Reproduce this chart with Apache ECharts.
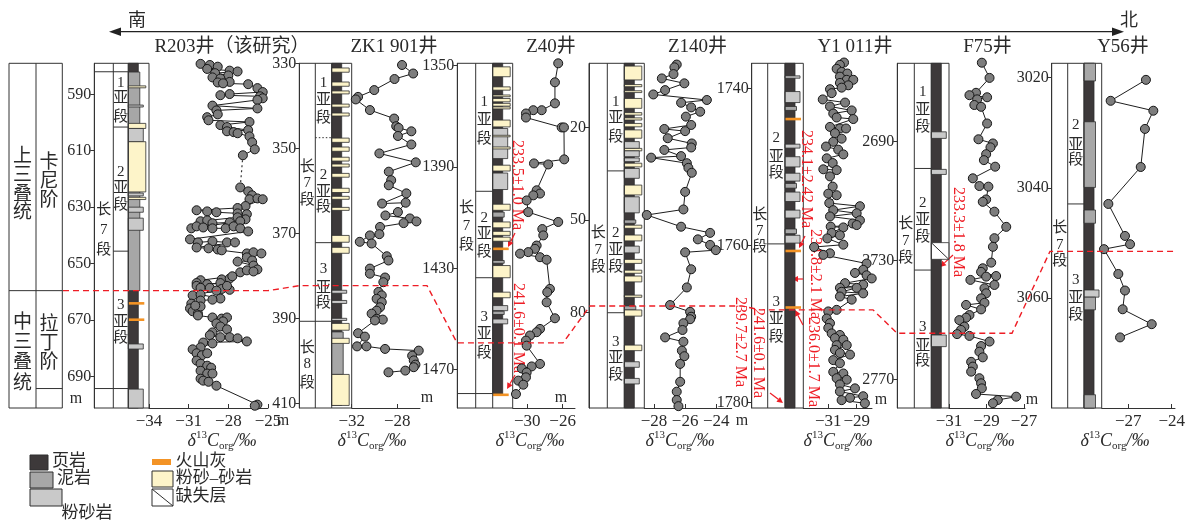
<!DOCTYPE html>
<html>
<head>
<meta charset="utf-8">
<script src="https://cdn.jsdelivr.net/npm/echarts@6/dist/echarts.min.js"></script>
<style>
html,body{margin:0;padding:0;background:#fff;}
#chart{width:1188px;height:524px;}
</style>
</head>
<body>
<div id="chart"></div>
<script>
// Lithology codes
const SH = 0, MD = 1, SI = 2, SS = 3, ASH = 4, GAP = 5;

// ---------- R203 ----------
const r203DepthTicks = [590, 610, 630, 650, 670, 690];
const r203CarbonTicks = [-34, -31, -28, -25];
const r203UpperDepth = [579.2,579.6,580.2,581.0,581.6,581.9,582.5,583.3,584.0,584.4,585.6,585.8,586.1,586.4,587.8,589.2,589.9,590.3,590.7,591.4,592.0,594.0,595.0,595.7,597.1,598.1,599.2,599.8,600.9,601.6,602.7,603.1,603.4,603.8,604.9,607.0,609.5,611.6];
const r203UpperCarbon = [-30.1,-29.4,-28.8,-29.6,-27.9,-27.3,-29.0,-28.0,-29.2,-28.6,-27.9,-28.8,-28.4,-26.5,-25.8,-25.4,-27.9,-28.6,-25.6,-25.4,-25.8,-29.2,-25.8,-28.9,-28.8,-29.6,-29.5,-26.4,-28.6,-28.1,-26.5,-28.1,-27.6,-27.3,-26.4,-26.2,-26.0,-26.9];
const r203LowerDepth = [623.0,624.4,625.8,627.2,626.9,627.2,629.6,630.3,631.1,631.5,631.8,632.2,632.5,634.3,633.6,635.0,634.7,635.7,635.4,635.0,637.5,636.8,637.2,637.5,637.5,636.8,637.5,638.6,641.4,642.5,642.1,642.5,642.5,644.3,644.6,645.0,645.3,646.4,646.0,646.4,647.8,648.9,649.3,650.7,652.1,653.1,652.4,652.8,655.6,655.3,654.5,655.9,656.9,657.3,656.9,657.9,658.6,658.6,659.0,659.3,657.9,659.6,661.3,661.0,662.4,662.8,663.1,664.2,665.9,666.9,667.7,665.2,664.9,668.4,669.1,669.5,669.1,670.5,671.2,672.3,673.3,674.4,675.4,676.1,676.1,676.5,677.6,678.0,678.3,679.7,680.4,681.8,682.5,681.8,684.4,685.5,686.2,686.9,688.0,689.0,689.0,690.8,691.5,691.9,693.3,700.0,700.4];
const r203LowerCarbon = [-27.1,-26.5,-26.2,-26.4,-25.8,-25.4,-26.7,-27.3,-30.4,-29.6,-28.9,-27.3,-26.6,-26.7,-27.3,-30.1,-29.6,-29.2,-27.9,-27.1,-30.8,-30.4,-29.9,-29.2,-28.2,-27.6,-27.1,-26.5,-30.9,-30.3,-29.2,-28.1,-27.5,-30.4,-29.5,-28.8,-28.5,-26.6,-26.1,-25.5,-26.6,-26.2,-27.3,-26.1,-25.8,-27.1,-26.6,-26.1,-28.5,-27.9,-27.7,-30.1,-30.4,-29.6,-28.6,-30.4,-30.1,-29.4,-28.5,-27.9,-28.1,-28.9,-30.7,-30.1,-28.6,-29.2,-30.1,-30.8,-30.9,-30.7,-30.3,-30.1,-30.5,-30.3,-29.2,-28.5,-28.1,-28.4,-28.9,-28.6,-28.1,-29.2,-29.4,-28.6,-27.9,-27.3,-26.6,-29.9,-29.2,-30.1,-30.7,-30.4,-30.0,-29.6,-30.4,-30.1,-29.6,-29.3,-30.1,-29.6,-29.2,-30.1,-29.9,-29.5,-28.9,-25.8,-26.0];
const r203Litho = [[579.0,701.2,SH],[582.1,659.6,MD],[587.0,587.7,SS],[593.8,594.5,SI],[600.3,602.1,SS],[602.1,606.8,SI],[606.8,624.6,SS],[625.0,626.0,SI],[626.5,627.3,SS],[630.0,631.8,SI],[633.9,638.2,SI],[664.1,664.1,ASH],[669.9,669.9,ASH],[678.5,680.3,SI],[694.5,701.2,SI]];
const r203Units = [[582.0,0],[601.6,1],[645.6,1],[694.3,0]];
const stageBounds = [[659.6,0],[694.3,1]];

// ---------- ZK1 901 ----------
const zk1DepthTicks = [330, 350, 370, 390, 410];
const zk1CarbonTicks = [-32, -28];
const zk1Depth = [330.4,332.4,333.7,336.3,337.9,338.5,341.0,343.0,344.8,345.2,346.0,347.1,349.1,351.2,353.3,355.5,357.5,358.7,360.6,363.0,362.8,365.0,365.8,366.5,367.2,367.6,368.5,370.2,370.5,372.0,372.4,375.4,376.4,378.3,379.5,380.4,381.5,383.8,384.6,385.4,386.2,387.4,388.2,388.9,390.1,390.3,390.5,393.5,394.3,396.6,396.6,397.2,397.6,398.8,399.9,400.9,401.5,402.3,402.7];
const zk1Carbon = [-27.58,-26.60,-28.24,-30.02,-31.44,-31.64,-30.40,-28.27,-28.09,-27.88,-26.76,-27.94,-26.76,-29.57,-26.37,-28.74,-28.53,-28.74,-27.20,-29.33,-27.26,-27.94,-29.04,-26.89,-26.31,-27.44,-29.51,-29.57,-30.40,-31.29,-30.25,-28.92,-28.77,-30.40,-30.40,-29.07,-29.22,-29.65,-29.36,-29.81,-29.36,-29.51,-29.81,-30.25,-29.81,-29.27,-29.96,-31.44,-30.84,-31.53,-30.70,-29.07,-26.11,-26.69,-26.55,-26.40,-26.55,-27.29,-28.77];
const zk1Litho = [[330.0,410.5,SH],[331.1,332.1,SS],[334.4,335.4,SS],[336.5,337.2,SS],[339.6,340.3,SS],[341.7,342.4,SS],[347.6,348.6,SS],[349.7,350.7,SS],[352.1,353.0,SS],[353.7,354.4,SS],[355.9,356.8,SS],[359.4,360.4,SS],[361.3,362.0,SS],[363.9,364.6,SS],[370.5,372.1,SS],[373.3,374.7,SS],[383.4,384.1,SI],[385.8,386.5,SI],[390.0,390.5,SI],[391.2,392.8,SS],[393.2,403.2,MD],[394.7,395.9,SS],[403.2,410.5,SS]];
const zk1Units = [[347.5,2],[372.2,1],[390.7,0]];

// ---------- Z40 ----------
const z40DepthTicks = [1350, 1390, 1430, 1470];
const z40CarbonTicks = [-30, -26];
const z40Depth = [1349.1,1356.6,1364.9,1367.6,1367.6,1368.9,1370.5,1374.4,1374.4,1387.0,1388.6,1389.0,1399.2,1400.5,1401.2,1403.2,1407.8,1411.7,1414.5,1417.0,1421.0,1422.3,1423.6,1424.2,1425.6,1426.6,1438.1,1439.4,1443.4,1449.7,1453.9,1455.2,1456.5,1458.5,1460.5,1467.7,1468.7,1469.5,1471.1,1473.0,1474.3,1475.9,1479.6];
const z40Carbon = [-26.50,-26.87,-26.87,-28.37,-29.32,-30.15,-30.15,-26.11,-25.85,-25.82,-29.24,-27.63,-28.94,-28.56,-29.32,-30.07,-29.89,-26.50,-28.30,-28.19,-28.94,-29.13,-29.89,-30.82,-28.56,-27.81,-27.44,-27.74,-27.81,-26.87,-28.56,-28.94,-29.69,-30.15,-30.07,-28.56,-29.50,-30.63,-30.07,-30.15,-31.02,-30.45,-31.28];
const z40Litho = [[1349.1,1479.6,SH],[1350.5,1354.4,SS],[1358.4,1359.7,SS],[1361.6,1362.3,SS],[1363.0,1364.3,SS],[1364.9,1366.0,SS],[1366.3,1367.1,SS],[1371.5,1374.2,SS],[1374.8,1386.7,SI],[1377.5,1378.1,SS],[1382.1,1382.9,SS],[1389.3,1391.6,SS],[1392.4,1398.9,SI],[1404.7,1407.1,SS],[1407.8,1409.8,MD],[1411.7,1414.0,SS],[1415.4,1417.0,SS],[1417.7,1419.3,SS],[1422.3,1422.3,ASH],[1426.9,1428.0,MD],[1428.9,1433.7,SS],[1439.4,1441.6,SS],[1444.7,1446.7,SI],[1446.9,1448.2,MD],[1450.0,1451.9,SI],[1479.9,1479.9,ASH]];
const z40Units = [[1399.6,1],[1433.7,1],[1479.4,0]];

// ---------- Z140 ----------
const z140DepthTicks = [20, 50, 80];
const z140CarbonTicks = [-28, -26, -24];
const z140Depth = [-0.5,0.4,2.6,4.0,5.6,7.8,9.2,11.0,11.9,13.4,14.8,16.4,19.1,20.4,21.1,23.4,25.1,26.4,27.2,29.2,29.7,31.5,33.0,34.6,40.8,46.5,48.3,52.1,54.1,56.2,58.0,59.7,60.4,65.9,71.8,77.5,79.7,81.3,82.1,83.4,85.6,88.0,89.4,92.3,94.1,96.6,102.4,105.6,108.3,110.3];
const z140Carbon = [-26.54,-26.69,-26.75,-27.50,-26.05,-27.29,-28.05,-24.60,-26.26,-25.61,-25.03,-25.95,-25.61,-27.34,-26.00,-27.12,-25.57,-25.61,-27.34,-26.26,-28.19,-25.89,-25.79,-25.57,-26.00,-26.11,-28.47,-26.26,-24.39,-25.18,-24.39,-24.02,-26.00,-25.61,-25.89,-26.97,-25.68,-25.61,-25.68,-26.11,-26.17,-27.29,-26.11,-26.21,-26.05,-26.32,-26.32,-26.54,-26.54,-26.43];
const z140Litho = [[-0.9,110.9,SH],[0.0,4.5,SS],[6.0,6.7,SS],[8.0,8.6,SS],[10.5,13.7,SS],[15.1,15.9,SS],[16.8,17.5,SS],[18.6,19.7,SS],[20.7,23.4,SS],[24.5,26.7,SI],[26.7,27.5,SS],[27.5,29.4,SI],[29.8,31.0,SI],[31.5,32.7,SS],[33.2,36.4,SI],[38.6,41.8,SS],[42.4,47.6,SI],[49.9,51.0,MD],[51.6,52.6,SS],[54.8,56.7,SS],[58.4,60.6,SI],[62.7,64.0,SS],[66.2,67.2,SS],[68.1,70.0,SS],[74.3,75.0,SS],[77.8,79.1,MD],[79.1,81.1,SS],[90.5,92.3,SS],[95.9,97.7,SI],[101.3,103.1,SI]];
const z140Units = [[34.0,1],[80.0,1]];

// ---------- Y1 011 ----------
const y1011DepthTicks = [1740, 1760, 1780];
const y1011CarbonTicks = [-31, -29];
const y1011Depth = [1736.7,1737.0,1737.5,1737.9,1738.1,1738.5,1738.9,1738.9,1739.3,1739.6,1739.9,1740.1,1740.6,1741.4,1741.8,1742.3,1742.8,1743.2,1743.7,1743.9,1744.9,1745.1,1745.1,1745.7,1746.4,1746.8,1747.4,1747.8,1748.4,1748.9,1749.5,1750.3,1750.4,1751.2,1752.5,1753.4,1753.6,1754.6,1755.0,1755.5,1755.9,1756.3,1756.8,1757.2,1757.4,1757.6,1757.7,1758.4,1758.7,1759.1,1759.9,1760.2,1761.0,1761.2,1762.3,1763.1,1763.5,1763.8,1764.2,1764.8,1765.0,1765.4,1765.4,1765.9,1766.1,1766.5,1766.9,1768.2,1768.4,1769.3,1769.9,1770.5,1771.2,1771.4,1771.8,1772.0,1772.7,1772.7,1773.3,1773.7,1773.9,1774.6,1775.0,1776.1,1776.3,1776.9,1777.1,1777.7,1778.2,1778.6,1779.2,1779.4,1779.7,1780.1];
const y1011Carbon = [-29.89,-30.18,-30.41,-30.06,-29.66,-30.18,-29.70,-29.24,-30.18,-29.59,-30.06,-30.88,-30.76,-31.39,-29.82,-30.88,-29.35,-30.65,-30.41,-29.24,-30.88,-30.18,-29.75,-30.53,-30.06,-30.65,-31.16,-30.30,-29.94,-31.11,-30.69,-31.35,-30.41,-30.88,-30.69,-31.00,-30.41,-30.93,-28.77,-30.65,-29.00,-30.88,-28.77,-29.28,-29.00,-30.83,-29.94,-30.76,-30.18,-31.07,-29.94,-32.00,-30.88,-31.35,-28.30,-28.54,-29.12,-28.30,-27.94,-29.82,-28.54,-30.18,-29.00,-30.06,-28.54,-30.18,-29.35,-30.41,-31.00,-31.11,-30.88,-31.00,-30.76,-30.18,-30.53,-29.94,-30.41,-29.70,-30.53,-30.18,-29.47,-30.65,-30.18,-30.65,-29.94,-30.41,-29.70,-30.18,-29.12,-30.18,-28.54,-29.47,-30.06,-28.42];
const y1011Litho = [[1736.8,1780.7,SH],[1738.4,1738.7,SI],[1740.4,1741.8,SI],[1742.3,1742.8,MD],[1743.9,1743.9,ASH],[1747.1,1747.6,SI],[1748.7,1750.0,SI],[1750.8,1751.8,SI],[1752.1,1752.7,MD],[1753.2,1754.4,SI],[1755.5,1756.5,SI],[1757.9,1758.5,MD],[1758.7,1759.7,SI],[1760.7,1760.7,ASH],[1767.9,1767.9,ASH]];
const y1011Units = [[1759.8,1]];

// ---------- F75 ----------
const f75DepthTicks = [2690, 2730, 2770];
const f75CarbonTicks = [-31, -29, -27];
const f75Depth = [2663.6,2668.7,2673.7,2674.5,2675.2,2675.9,2677.8,2678.4,2684.0,2689.3,2690.7,2692.0,2694.3,2696.3,2698.5,2702.4,2705.0,2705.2,2709.5,2710.3,2713.6,2718.7,2722.5,2725.4,2730.7,2732.6,2733.8,2735.2,2735.4,2736.5,2738.2,2739.3,2741.0,2742.7,2744.2,2744.9,2746.4,2748.3,2749.2,2750.0,2752.2,2753.3,2754.7,2755.3,2757.2,2758.7,2760.6,2762.5,2764.0,2765.6,2767.3,2769.5,2771.2,2772.9,2774.8,2775.7,2776.8,2777.9];
const f75Carbon = [-29.25,-28.84,-29.56,-29.91,-28.97,-29.50,-29.65,-29.29,-28.97,-29.43,-28.66,-28.79,-29.02,-29.14,-28.54,-29.73,-29.38,-28.90,-29.02,-29.20,-28.58,-27.95,-28.58,-28.66,-28.75,-29.20,-29.29,-28.49,-29.02,-29.86,-28.58,-29.11,-29.02,-29.29,-29.11,-30.09,-29.29,-29.91,-30.09,-30.45,-30.18,-30.36,-30.57,-29.91,-28.84,-29.29,-29.38,-29.20,-29.82,-29.73,-29.82,-29.38,-29.29,-29.25,-29.56,-27.42,-28.40,-28.66];
const f75Litho = [[2663.8,2779.5,SH],[2686.8,2689.0,SI],[2699.4,2701.1,SI],[2724.0,2729.6,GAP],[2755.0,2758.9,SI]];
const f75Units = [[2699.1,1],[2733.2,1]];

// ---------- Y56 ----------
const y56DepthTicks = [3020, 3040, 3060];
const y56CarbonTicks = [-27, -24];
const y56Depth = [3020.4,3024.2,3026.0,3029.3,3036.2,3042.9,3048.7,3050.2,3051.1,3055.6,3058.6,3062.0,3064.7,3067.1];
const y56Carbon = [-25.78,-28.22,-25.27,-25.85,-26.14,-28.38,-27.23,-26.88,-28.68,-27.69,-27.23,-27.39,-25.38,-27.57];
const y56Litho = [[3017.4,3079.9,SH],[3017.4,3020.6,MD],[3028.0,3039.9,MD],[3044.0,3046.4,MD],[3058.5,3059.8,SI],[3059.8,3062.1,MD],[3077.5,3079.9,MD]];
const y56Units = [[3042.9,1]];

// Ladinian/Carnian boundary traced through each well (depth in that well)
const boundaryDepths = [659.6, 382.3, 1459.4, 77.8, 1768.2, 2754.4, 3051.5];

// ---------- styling / layout ----------
const SERIF = "'Liberation Serif','Noto Sans CJK SC',serif";
const INK = '#2a2a2a';
const RED = '#ee1d25';
const LITHO_STYLE = {
  [SH]: {w: 10, fill: '#3d393a'},
  [MD]: {w: 11.5, fill: '#a7a7a7'},
  [SI]: {w: 15, fill: '#c9c9c9'},
  [SS]: {w: 17.5, fill: '#fdf4c9'},
  [ASH]: {w: 16, fill: '#f39325'},
  [GAP]: {w: 17.5, fill: '#ffffff'}
};
const TOP = 63.3, HEIGHT = 344.7;

const PANELS = [
  {title: 'R203井（该研究）', tx: 232, left: 94.3, boxW: 54.7, col1: 19, col2: 15, curveR: 268, xr: [-34, -25], yr: [579.0, 701.2],
   dTicks: r203DepthTicks, cTicks: r203CarbonTicks, litho: r203Litho, units: r203Units, labelX: 222, unit: [76, 399],
   c1: [['长',210],['7',230],['段',250]],
   c2: [['1',82.7],['亚',98.3],['段',116.7],['2',171.7],['亚',188.3],['段',205],['3',305],['亚',321.7],['段',338.3]]},
  {title: 'ZK1 901井', tx: 394, left: 299.3, boxW: 52.4, col1: 16, col2: 16.4, curveR: 420, xr: [-32, -26], yr: [330.0, 411.1],
   dTicks: zk1DepthTicks, cTicks: zk1CarbonTicks, litho: zk1Litho, units: zk1Units, labelX: 372, unit: [283, 421],
   c1: [['长',167],['7',183],['段',200],['长',348],['8',364],['段',383]],
   c2: [['1',83],['亚',100],['段',118],['2',175],['亚',192],['段',207],['3',269],['亚',288],['段',303]]},
  {title: 'Z40井', tx: 551, left: 457.3, boxW: 55.4, col1: 18.4, col2: 17, curveR: 575, xr: [-31.65, -24.6], yr: [1349.1, 1485.1],
   dTicks: z40DepthTicks, cTicks: z40CarbonTicks, litho: z40Litho, units: z40Units, labelX: 530, unit: [427, 398],
   c1: [['长',208],['7',226],['段',245]],
   c2: [['1',102],['亚',120],['段',139],['2',218],['亚',234],['段',252],['3',317],['亚',334],['段',353]]},
  {title: 'Z140井', tx: 697.5, left: 589, boxW: 55.3, col1: 18.3, col2: 17, curveR: 731.7, xr: [-28.63, -23.0], yr: [-0.9, 110.9],
   dTicks: z140DepthTicks, cTicks: z140CarbonTicks, litho: z140Litho, units: z140Units, labelX: 680, unit: [561, 398],
   c1: [['长',233],['7',250],['段',267]],
   c2: [['1',102],['亚',118],['段',137],['2',233],['亚',250],['段',267],['3',342],['亚',358],['段',375]]},
  {title: 'Y1 011井', tx: 855, left: 751.7, boxW: 51.6, col1: 16, col2: 17.3, curveR: 872, xr: [-32.76, -27.92], yr: [1736.8, 1780.7],
   dTicks: y1011DepthTicks, cTicks: y1011CarbonTicks, litho: y1011Litho, units: y1011Units, labelX: 838, unit: [742, 421],
   c1: [['长',215],['7',231],['段',247]],
   c2: [['2',138],['亚',157],['段',173],['3',302],['亚',319],['段',337]]},
  {title: 'F75井', tx: 987.5, left: 897.3, boxW: 51.7, col1: 17, col2: 17, curveR: 1025, xr: [-31, -26.95], yr: [2663.8, 2779.5],
   dTicks: f75DepthTicks, cTicks: f75CarbonTicks, litho: f75Litho, units: f75Units, labelX: 980, unit: [881, 400],
   c1: [['长',224],['7',241],['段',258]],
   c2: [['1',92],['亚',110],['段',127],['2',203],['亚',220],['段',237],['3',327],['亚',346],['段',361]]},
  {title: 'Y56井', tx: 1123, left: 1051.7, boxW: 50, col1: 16, col2: 16.3, curveR: 1175, xr: [-28.84, -23.77], yr: [3017.4, 3079.9],
   dTicks: y56DepthTicks, cTicks: y56CarbonTicks, litho: y56Litho, units: y56Units, labelX: 1115, unit: [1032, 400],
   c1: [['长',228],['7',245],['段',261]],
   c2: [['2',125],['亚',145],['段',160],['3',280],['亚',298],['段',315]]}
];

const CURVES = [
  [[r203UpperDepth, r203UpperCarbon], [r203LowerDepth, r203LowerCarbon]],
  [[zk1Depth, zk1Carbon]],
  [[z40Depth, z40Carbon]],
  [[z140Depth, z140Carbon]],
  [[y1011Depth, y1011Carbon]],
  [[f75Depth, f75Carbon]],
  [[y56Depth, y56Carbon]]
];

const minus = v => String(v).replace('-', '\u2212');
const plain = v => String(v);

const grids = [], xAxes = [], yAxes = [], series = [];

PANELS.forEach((p, i) => {
  const curveL = p.left + p.boxW;
  // stratigraphic column box
  grids.push({left: p.left, top: TOP, width: p.boxW, height: HEIGHT, show: true, borderColor: '#333', borderWidth: 1, backgroundColor: 'transparent'});
  // carbon isotope curve area
  grids.push({left: curveL, top: TOP, width: p.curveR - curveL, height: HEIGHT});

  xAxes.push({gridIndex: 2 * i, type: 'value', min: 0, max: p.boxW, show: false});
  xAxes.push({
    gridIndex: 2 * i + 1, type: 'value', min: p.xr[0], max: p.xr[1], position: 'bottom',
    axisLine: {show: true, onZero: false, lineStyle: {color: '#333', width: 1}},
    axisTick: {show: true, inside: true, length: 4, customValues: p.cTicks, lineStyle: {color: '#333'}},
    axisLabel: {customValues: p.cTicks, formatter: minus, fontFamily: SERIF, fontSize: 17, color: INK, margin: 5},
    splitLine: {show: false}
  });
  yAxes.push({
    gridIndex: 2 * i, type: 'value', inverse: true, min: p.yr[0], max: p.yr[1], position: 'left',
    axisLine: {show: true, onZero: false, lineStyle: {color: '#333', width: 1}},
    axisTick: {show: true, inside: false, length: 4, customValues: p.dTicks, lineStyle: {color: '#333'}},
    axisLabel: {customValues: p.dTicks, formatter: plain, fontFamily: SERIF, fontSize: 16, color: INK, margin: 3},
    splitLine: {show: false}
  });
  yAxes.push({gridIndex: 2 * i + 1, type: 'value', inverse: true, min: p.yr[0], max: p.yr[1], show: false});

  const off = p.col1 + p.col2;
  // lithology column
  series.push({
    type: 'custom', xAxisIndex: 2 * i, yAxisIndex: 2 * i, silent: true, z: 2,
    data: p.litho.map(r => [0, r[0], r[1], r[2]]),
    encode: {x: 0, y: [1, 2]},
    renderItem(params, api) {
      const kind = api.value(3);
      const st = LITHO_STYLE[kind];
      const a = api.coord([off, api.value(1)]);
      const b = api.coord([off, api.value(2)]);
      if (kind === ASH) {
        return {type: 'line', shape: {x1: a[0], y1: a[1], x2: a[0] + st.w, y2: a[1]}, style: {stroke: st.fill, lineWidth: 2.6}};
      }
      const h = Math.max(b[1] - a[1], 1);
      const rect = {type: 'rect', shape: {x: a[0], y: a[1], width: st.w, height: h}, style: {fill: st.fill, stroke: '#2e2e2e', lineWidth: 0.8}};
      if (kind === GAP) {
        return {type: 'group', children: [rect, {type: 'line', shape: {x1: a[0], y1: a[1], x2: a[0] + st.w, y2: a[1] + h}, style: {stroke: '#2e2e2e', lineWidth: 1}}]};
      }
      return rect;
    }
  });
  // member / sub-member boundaries
  series.push({
    type: 'custom', xAxisIndex: 2 * i, yAxisIndex: 2 * i, silent: true, z: 3,
    data: p.units.map(u => [0, u[0], u[1]]),
    encode: {x: 0, y: 1},
    renderItem(params, api) {
      const scope = api.value(2);
      const q = api.coord([0, api.value(1)]);
      const x0 = scope === 0 ? q[0] : q[0] + p.col1;
      return {type: 'line', shape: {x1: x0, y1: q[1], x2: q[0] + off, y2: q[1]},
        style: {stroke: '#333', lineWidth: 1, lineDash: scope === 2 ? [1.5, 2] : null}};
    }
  });
  // column dividers
  series.push({
    type: 'custom', xAxisIndex: 2 * i, yAxisIndex: 2 * i, silent: true, z: 3,
    data: [[0, p.yr[0]]],
    renderItem(params) {
      const cs = params.coordSys;
      return {type: 'group', children: [p.col1, off].map(dx => ({
        type: 'line', shape: {x1: cs.x + dx, y1: cs.y, x2: cs.x + dx, y2: cs.y + cs.height}, style: {stroke: '#333', lineWidth: 1}}))};
    }
  });
  // δ13C curves
  CURVES[i].forEach(([dep, val]) => {
    series.push({
      type: 'line', xAxisIndex: 2 * i + 1, yAxisIndex: 2 * i + 1, clip: false, z: 4,
      data: dep.map((d, k) => [val[k], d]),
      symbol: 'circle', symbolSize: 9,
      itemStyle: {color: '#7d7d7d', borderColor: '#161616', borderWidth: 1},
      lineStyle: {color: '#1e1e1e', width: 1}
    });
  });
});

// dotted link across the unsampled interval in R203
series.push({
  type: 'line', xAxisIndex: 1, yAxisIndex: 1, symbol: 'none', z: 3,
  data: [[r203UpperCarbon[r203UpperCarbon.length - 1], r203UpperDepth[r203UpperDepth.length - 1]], [r203LowerCarbon[0], r203LowerDepth[0]]],
  lineStyle: {color: '#333', width: 1.2, type: [2, 3]}
});

// chronostratigraphic table to the left of R203 (shares R203 depth scale)
const TBL = grids.length;
grids.push({left: 9, top: TOP, width: 53.3, height: HEIGHT, show: true, borderColor: '#333', borderWidth: 1});
xAxes.push({gridIndex: TBL, type: 'value', min: 0, max: 53.3, show: false});
yAxes.push({gridIndex: TBL, type: 'value', inverse: true, min: PANELS[0].yr[0], max: PANELS[0].yr[1], show: false});
series.push({
  type: 'custom', xAxisIndex: TBL, yAxisIndex: TBL, silent: true,
  data: stageBounds.map(s => [0, s[0], s[1]]),
  encode: {x: 0, y: 1},
  renderItem(params, api) {
    const q = api.coord([0, api.value(1)]);
    const x0 = api.value(2) === 0 ? q[0] : q[0] + 27;
    return {type: 'line', shape: {x1: x0, y1: q[1], x2: q[0] + 53.3, y2: q[1]}, style: {stroke: '#333', lineWidth: 1}};
  }
});
series.push({
  type: 'custom', xAxisIndex: TBL, yAxisIndex: TBL, silent: true,
  data: [[0, PANELS[0].yr[0]]],
  renderItem(params) {
    const cs = params.coordSys;
    return {type: 'line', shape: {x1: cs.x + 27, y1: cs.y, x2: cs.x + 27, y2: cs.y + cs.height}, style: {stroke: '#333', lineWidth: 1}};
  }
});

const chart = echarts.init(document.getElementById('chart'), null, {renderer: 'canvas'});
chart.setOption({animation: false, backgroundColor: '#fff', grid: grids, xAxis: xAxes, yAxis: yAxes, series});

// ---------- annotations ----------
const G = [];
const txt = (text, x, y, size, opt = {}) => G.push(Object.assign({
  type: 'text', x, y, silent: true,
  style: Object.assign({text, font: `${opt.italic ? 'italic ' : ''}${size}px ${SERIF}`, fill: opt.color || INK,
    textAlign: opt.align || 'center', textVerticalAlign: 'middle', align: opt.align || 'center', verticalAlign: 'middle'}, opt.style || {})
}, opt.el || {}));

function arrow(x1, y1, x2, y2, color) {
  const ang = Math.atan2(y2 - y1, x2 - x1), L = 6, W = 3;
  const bx = x2 - L * Math.cos(ang), by = y2 - L * Math.sin(ang);
  const px = -Math.sin(ang) * W, py = Math.cos(ang) * W;
  G.push({type: 'line', silent: true, shape: {x1, y1, x2: bx, y2: by}, style: {stroke: color, lineWidth: 1.2}});
  G.push({type: 'polygon', silent: true, shape: {points: [[x2, y2], [bx + px, by + py], [bx - px, by - py]]}, style: {fill: color}});
}

// south–north direction arrow
G.push({type: 'line', silent: true, shape: {x1: 116, y1: 31.7, x2: 1117, y2: 31.7}, style: {stroke: '#222', lineWidth: 1.3}});
G.push({type: 'polygon', silent: true, shape: {points: [[109, 31.7], [121, 27.5], [121, 35.9]]}, style: {fill: '#222'}});
G.push({type: 'polygon', silent: true, shape: {points: [[1124, 31.7], [1112, 27.5], [1112, 35.9]]}, style: {fill: '#222'}});
txt('南', 137, 21, 18);
txt('北', 1129, 21, 18);

PANELS.forEach(p => {
  txt(p.title, p.tx, 47, 19);
  p.c1.forEach(([c, y]) => txt(c, p.left + p.col1 / 2, y, 15));
  p.c2.forEach(([c, y]) => txt(c, p.left + p.col1 + p.col2 / 2, y, 15));
  txt('m', p.unit[0], p.unit[1], 16);
  G.push({type: 'text', x: p.labelX, y: 441, silent: true, style: {
    text: '{a|δ}{s|13}{a|C}{b|org}{a|/‰}', textAlign: 'center', textVerticalAlign: 'middle', align: 'center', verticalAlign: 'middle',
    rich: {
      a: {font: `italic 18px ${SERIF}`, fill: INK, lineHeight: 22},
      s: {font: `11px ${SERIF}`, fill: INK, lineHeight: 11, verticalAlign: 'top'},
      b: {font: `11px ${SERIF}`, fill: INK, lineHeight: 11, verticalAlign: 'bottom'}
    }}});
});

// series / stage labels
[['上',157],['三',176],['叠',195],['统',213],['中',323],['三',343],['叠',363],['统',384]].forEach(([c, y]) => txt(c, 22.5, y, 19));
[['卡',163],['尼',182],['阶',201],['拉',325],['丁',344],['阶',363]].forEach(([c, y]) => txt(c, 49, y, 19));

// radiometric ages
const age = (t, x, y) => txt(t, x, y, 16, {color: RED, align: 'left', el: {rotation: -Math.PI / 2}});
age('233.5±1.0 Ma', 517.5, 140);
age('241.6±0.1 Ma', 518.5, 283);
age('234.1±2.42 Ma', 806, 130);
age('234.8±2.1 Ma', 815, 229);
age('236.0±1.7 Ma', 813, 317);
age('239.7±2.7 Ma', 740, 297);
age('241.6±0.1 Ma', 758, 308);
age('233.3±1.8 Ma', 958, 187);
arrow(515, 233, 508, 247, RED);
arrow(515, 375, 507, 389, RED);
arrow(805, 236, 799, 248, RED);
arrow(803, 279, 792, 279, RED);
arrow(803, 325, 795, 310, RED);
arrow(770, 393, 783, 403, RED);
arrow(953, 255, 940, 267, RED);

// legend
const box = (x, y, w, h, fill) => G.push({type: 'rect', silent: true, shape: {x, y, width: w, height: h}, style: {fill, stroke: '#2e2e2e', lineWidth: 1}});
box(30, 455, 18, 15, LITHO_STYLE[SH].fill); txt('页岩', 69, 462, 17);
box(30, 472, 23, 16, LITHO_STYLE[MD].fill); txt('泥岩', 74, 479, 17);
box(30, 489, 32, 17, LITHO_STYLE[SI].fill); txt('粉砂岩', 87, 514, 17);
G.push({type: 'rect', silent: true, shape: {x: 152, y: 459, width: 19, height: 6}, style: {fill: LITHO_STYLE[ASH].fill}});
txt('火山灰', 201, 462, 17);
box(152, 471, 21, 16, LITHO_STYLE[SS].fill); txt('粉砂–砂岩', 214, 479, 17);
box(152, 489, 21, 17, '#fff');
G.push({type: 'line', silent: true, shape: {x1: 152, y1: 489, x2: 173, y2: 506}, style: {stroke: '#2e2e2e', lineWidth: 1}});
txt('缺失层', 201, 497, 17);

// correlation line of the Ladinian/Carnian boundary
const yPix = boundaryDepths.map((d, i) => chart.convertToPixel({yAxisIndex: 2 * i}, d));
const pts = [
  [63, yPix[0]], [268, yPix[0]], [284, yPix[0] - 2.5], [300, yPix[1]], [427, yPix[1]],
  [457, yPix[2]], [563, yPix[2]], [590, yPix[3]], [742, yPix[3]], [760, yPix[4]], [873, yPix[4]],
  [897, yPix[5]], [1012, yPix[5]], [1050, yPix[6]], [1176, yPix[6]]
];
G.push({type: 'polyline', silent: true, z: 100, shape: {points: pts}, style: {stroke: RED, lineWidth: 1.4, lineDash: [6, 4], fill: null}});

chart.setOption({graphic: [{elements: G}]});
</script>
</body>
</html>
